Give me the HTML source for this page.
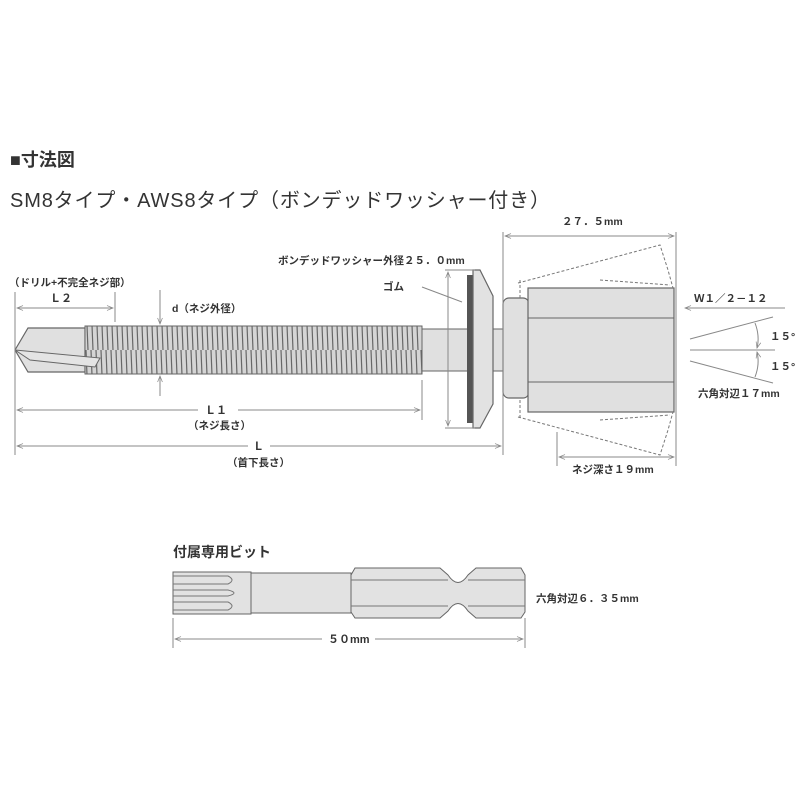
<!DOCTYPE html>
<html><head><meta charset="utf-8"><style>
html,body{margin:0;padding:0;background:#fff;}
svg{display:block;}
text{font-family:"Liberation Sans","Noto Sans CJK JP",sans-serif;fill:#333;}
</style></head><body>
<svg width="800" height="800" viewBox="0 0 800 800" xmlns="http://www.w3.org/2000/svg">
<defs>
<marker id="a" viewBox="0 0 10 10" refX="10" refY="5" markerWidth="8" markerHeight="6" orient="auto-start-reverse"><path d="M0,1 L10,5 L0,9" fill="none" stroke="#888" stroke-width="1.2"/></marker>
<pattern id="th" width="5" height="50" patternUnits="userSpaceOnUse"><rect width="5" height="50" fill="#d4d4d4"/><line x1="1" y1="0" x2="3" y2="50" stroke="#666" stroke-width="1.2"/></pattern>
</defs>
<text x="10" y="166" font-size="18" font-weight="bold" fill="#222">■寸法図</text>
<text x="10" y="207" font-size="20" fill="#222" textLength="540" lengthAdjust="spacing">SM8タイプ・AWS8タイプ（ボンデッドワッシャー付き）</text>

<!-- screw -->
<path d="M15,350 L28,328 L85,328 L85,372 L28,372 Z" fill="#e0e0e0" stroke="#666" stroke-width="1.2"/>
<rect x="85" y="326" width="337" height="48" fill="url(#th)" stroke="#666" stroke-width="1"/>
<path d="M15,350 L100,358 L95,367 L30,360Z" fill="#e4e4e4" stroke="#666" stroke-width="1"/>
<rect x="422" y="329" width="82" height="42" fill="#e0e0e0" stroke="#666" stroke-width="1"/>
<rect x="467" y="275" width="6" height="148" fill="#555"/>
<path d="M473,270 L480,270 L493,296 L493,404 L480,428 L473,428Z" fill="#e2e2e2" stroke="#666" stroke-width="1.2"/>
<rect x="503" y="298" width="26" height="100" rx="6" fill="#e0e0e0" stroke="#666" stroke-width="1.2"/>
<rect x="528" y="288" width="146" height="124" fill="#e0e0e0" stroke="#666" stroke-width="1.2"/>
<line x1="528" y1="318" x2="674" y2="318" stroke="#666"/>
<line x1="528" y1="382" x2="674" y2="382" stroke="#666"/>
<path d="M518,283 L660,245 L668,270 L673,288" fill="none" stroke="#777" stroke-dasharray="3,2"/>
<path d="M518,417 L660,455 L668,430 L673,412" fill="none" stroke="#777" stroke-dasharray="3,2"/>
<path d="M520,280 L520,300 M520,400 L520,420 M600,280 L670,285 M600,420 L670,415" fill="none" stroke="#777" stroke-dasharray="3,2"/>

<!-- dims -->
<g stroke="#888" stroke-width="1" fill="none">
<line x1="15" y1="292" x2="15" y2="455"/>
<line x1="115" y1="292" x2="115" y2="322"/>
<line x1="17" y1="308" x2="113" y2="308" marker-start="url(#a)" marker-end="url(#a)"/>
<line x1="160" y1="290" x2="160" y2="324" marker-end="url(#a)"/>
<line x1="160" y1="396" x2="160" y2="376" marker-end="url(#a)"/>
<line x1="422" y1="380" x2="422" y2="420"/>
<line x1="17" y1="410" x2="198" y2="410" marker-start="url(#a)"/>
<line x1="238" y1="410" x2="420" y2="410" marker-end="url(#a)"/>
<line x1="17" y1="446" x2="248" y2="446" marker-start="url(#a)"/>
<line x1="270" y1="446" x2="501" y2="446" marker-end="url(#a)"/>
<line x1="445" y1="270" x2="475" y2="270"/>
<line x1="445" y1="428" x2="475" y2="428"/>
<line x1="448" y1="272" x2="448" y2="426" marker-start="url(#a)" marker-end="url(#a)"/>
<line x1="422" y1="287" x2="462" y2="302"/>
<line x1="503" y1="232" x2="503" y2="455"/>
<line x1="676" y1="232" x2="676" y2="466"/>
<line x1="505" y1="236" x2="674" y2="236" marker-start="url(#a)" marker-end="url(#a)"/>
<line x1="557" y1="432" x2="557" y2="466"/>
<line x1="559" y1="457" x2="674" y2="457" marker-start="url(#a)" marker-end="url(#a)"/>
<line x1="785" y1="308" x2="685" y2="308" marker-end="url(#a)"/>
<line x1="690" y1="339" x2="773" y2="317"/>
<line x1="690" y1="350" x2="775" y2="350"/>
<line x1="690" y1="361" x2="773" y2="383"/>
<path d="M755,323 Q760,336 757,348" marker-end="url(#a)"/>
<path d="M755,377 Q760,364 757,352" marker-end="url(#a)"/>
</g>
<g font-size="10.5" font-weight="bold" fill="#444">
<text x="9" y="286">（ドリル+不完全ネジ部）</text>
<text x="50" y="302" font-size="11">Ｌ２</text>
<text x="172" y="312">d（ネジ外径）</text>
<text x="205" y="414" font-size="11">Ｌ１</text>
<text x="188" y="429">（ネジ長さ）</text>
<text x="253" y="450" font-size="11">Ｌ</text>
<text x="227" y="466">（首下長さ）</text>
<text x="278" y="264">ボンデッドワッシャー外径２５．０mm</text>
<text x="383" y="290">ゴム</text>
<text x="562" y="225">２７．５mm</text>
<text x="694" y="302">Ｗ１／２－１２</text>
<text x="770" y="340">１５°</text>
<text x="770" y="370">１５°</text>
<text x="698" y="397">六角対辺１７mm</text>
<text x="572" y="473">ネジ深さ１９mm</text>
</g>

<!-- bit -->
<text x="173" y="557" font-size="14" font-weight="bold" fill="#222">付属専用ビット</text>
<rect x="173" y="572" width="78" height="42" fill="#e2e2e2" stroke="#666"/>
<path d="M173,576 L228,576 Q236,580 228,584 L173,584 M173,590 L228,590 Q240,593 228,596 L173,596 M173,602 L228,602 Q236,606 228,610 L173,610" fill="none" stroke="#777"/>
<rect x="251" y="573" width="100" height="40" fill="#e2e2e2" stroke="#666"/>
<path d="M355,568 L440,568 L448,575 Q458,590 468,575 L476,568 L521,568 L525,575 L525,612 L521,618 L476,618 L468,611 Q458,596 448,611 L440,618 L355,618 L351,612 L351,575Z" fill="#e2e2e2" stroke="#666"/>
<path d="M351,580 L448,580 M351,606 L448,606 M468,580 L525,580 M468,606 L525,606" stroke="#777" fill="none"/>
<g stroke="#888" fill="none">
<line x1="173" y1="618" x2="173" y2="648"/>
<line x1="525" y1="618" x2="525" y2="648"/>
<line x1="175" y1="639" x2="322" y2="639" marker-start="url(#a)"/>
<line x1="375" y1="639" x2="523" y2="639" marker-end="url(#a)"/>
</g>
<text x="328" y="643" font-size="11" font-weight="bold" fill="#444">５０mm</text>
<text x="536" y="602" font-size="10.5" font-weight="bold" fill="#444">六角対辺６．３５mm</text>
</svg>
</body></html>
